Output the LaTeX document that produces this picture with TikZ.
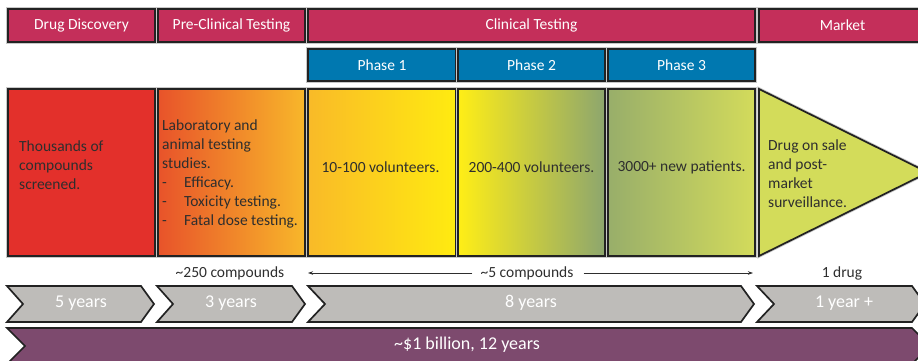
\documentclass[tikz,border=0pt]{standalone}
\usepackage{fontspec}
\setmainfont{Carlito}
\usetikzlibrary{arrows.meta}
\definecolor{crim}{HTML}{C42F5A}
\definecolor{phb}{HTML}{0078B0}
\definecolor{edge}{HTML}{222222}
\definecolor{halo}{HTML}{C8C8C8}
\definecolor{txt}{HTML}{2E2E2E}
\definecolor{chev}{HTML}{BEBCB9}
\definecolor{purp}{HTML}{7D4A6E}
\definecolor{redb}{HTML}{E3302B}
\definecolor{c2l}{HTML}{E8532A}
\definecolor{c2r}{HTML}{F8B72A}
\definecolor{c3l}{HTML}{F9BA28}
\definecolor{c3r}{HTML}{FFEB10}
\definecolor{c4l}{HTML}{FFEE16}
\definecolor{c4m}{HTML}{DDD862}
\definecolor{c4r}{HTML}{8DA66E}
\definecolor{c5l}{HTML}{98AE6A}
\definecolor{c5r}{HTML}{D3DB5B}
\definecolor{tri}{HTML}{D3DC5A}
\begin{document}
\begin{tikzpicture}[x=1pt,y=-1pt,
  bx/.style={draw=edge, line width=1.7pt, preaction={draw=halo, line width=3.4pt}, inner sep=0pt},
  hdr/.style={bx, fill=crim, text=white, font=\fontsize{15.5}{19}\selectfont, minimum height=33pt},
  phase/.style={bx, fill=phb, text=white, font=\fontsize{15.5}{19}\selectfont, minimum height=32pt},
  mainbox/.style={bx, minimum height=167pt},
  btxt/.style={text=txt, font=\fontsize{15.5}{19}\selectfont, inner sep=0pt, align=left},
  lbl/.style={text=txt, font=\fontsize{15.5}{19}\selectfont, inner sep=0pt},
  chevron/.style={draw=edge, line width=1.7pt, fill=chev, line join=miter},
  ctxt/.style={text=white, font=\fontsize{18}{22}\selectfont, inner sep=0pt}
]
\useasboundingbox (0,0) rectangle (918,361);
\clip (0,0) rectangle (918,361);

% header row
\node[hdr, minimum width=147pt] (h1) at (81.5,25.5) {Drug Discovery};
\node[hdr, minimum width=147pt] (h2) at (231.5,25.5) {Pre-Clinical Testing};
\node[hdr, minimum width=447pt] (h3) at (531.5,25.5) {Clinical Testing};
\node[hdr, minimum width=167pt] (h4) at (842.5,25.5) {Market};

% phase row
\node[phase, minimum width=148pt] (p1) at (382,65) {Phase 1};
\node[phase, minimum width=147pt] (p2) at (531.5,65) {Phase 2};
\node[phase, minimum width=147pt] (p3) at (681.5,65) {Phase 3};

% main boxes
\node[mainbox, fill=redb, minimum width=147pt] (b1) at (81.5,172.5) {};
\node[mainbox, left color=c2l, right color=c2r, minimum width=147pt] (b2) at (231.5,172.5) {};
\node[mainbox, left color=c3l, right color=c3r, minimum width=148pt] (b3) at (382,172.5) {};
\node[mainbox, left color=c4l, middle color=c4m, right color=c4r, minimum width=147pt] (b4) at (531.5,172.5) {};
\node[mainbox, left color=c5l, right color=c5r, minimum width=147pt] (b5) at (681.5,172.5) {};
\draw[draw=halo, line width=3.4pt] (759,89) -- (928,172.5) -- (759,256) -- cycle;
\draw[draw=edge, line width=1.7pt, fill=tri, line join=miter] (759,89) -- (928,172.5) -- (759,256) -- cycle;

\node[btxt, anchor=west] (t1) at (19,165) {Thousands of\\compounds\\screened.};
\node[btxt, anchor=west] (t2) at (162,173.5) {Laboratory and\\animal testing\\studies.\\\makebox[22pt][l]{-}Efficacy.\\\makebox[22pt][l]{-}Toxicity testing.\\\makebox[22pt][l]{-}Fatal dose testing.};
\node[lbl] (t3) at (380.5,167) {10-100 volunteers.};
\node[lbl] (t4) at (531.5,167) {200-400 volunteers.};
\node[lbl] (t5) at (681.5,167) {3000+ new patients.};
\node[btxt, anchor=west] (t6) at (768,173.5) {Drug on sale\\and post-\\market\\surveillance.};

% compounds row
\node[lbl] (c1) at (230,273) {\textasciitilde 250 compounds};
\node[lbl] (c2) at (527,273) {\textasciitilde 5 compounds};
\node[lbl] (c3) at (842,273) {1 drug};
\coordinate (al) at (308,273);
\coordinate (ar) at (753,273);
\draw[draw=txt, line width=0.7pt, -{Stealth[length=5pt,width=3.5pt]}] ([xshift=-8pt]c2.west) -- (al);
\draw[draw=txt, line width=0.7pt, -{Stealth[length=5pt,width=3.5pt]}] ([xshift=10pt]c2.east) -- (ar);

% chevrons
\draw[chevron] (7,286) -- (141,286) -- (154,304) -- (141,322) -- (7,322) -- (23,304) -- cycle;
\draw[chevron] (157,286) -- (292,286) -- (305,304) -- (292,322) -- (157,322) -- (173,304) -- cycle;
\draw[chevron] (308,286) -- (741,286) -- (754,304) -- (741,322) -- (308,322) -- (325,304) -- cycle;
\draw[chevron] (757,286) -- (912,286) -- (925,304) -- (912,322) -- (757,322) -- (774,304) -- cycle;
\node[ctxt] (y1) at (81,303) {5 years};
\node[ctxt] (y2) at (231,303) {3 years};
\node[ctxt] (y3) at (531,303) {8 years};
\node[ctxt] (y4) at (844,303) {1 year +};

% purple bar
\draw[draw=edge, line width=1.7pt, fill=purp, line join=miter] (7,328) -- (912,328) -- (930,346) -- (912,364) -- (7,364) -- (25,346) -- cycle;
\node[ctxt] (cost) at (467,345) {\textasciitilde\$1 billion, 12 years};
\end{tikzpicture}
\end{document}
